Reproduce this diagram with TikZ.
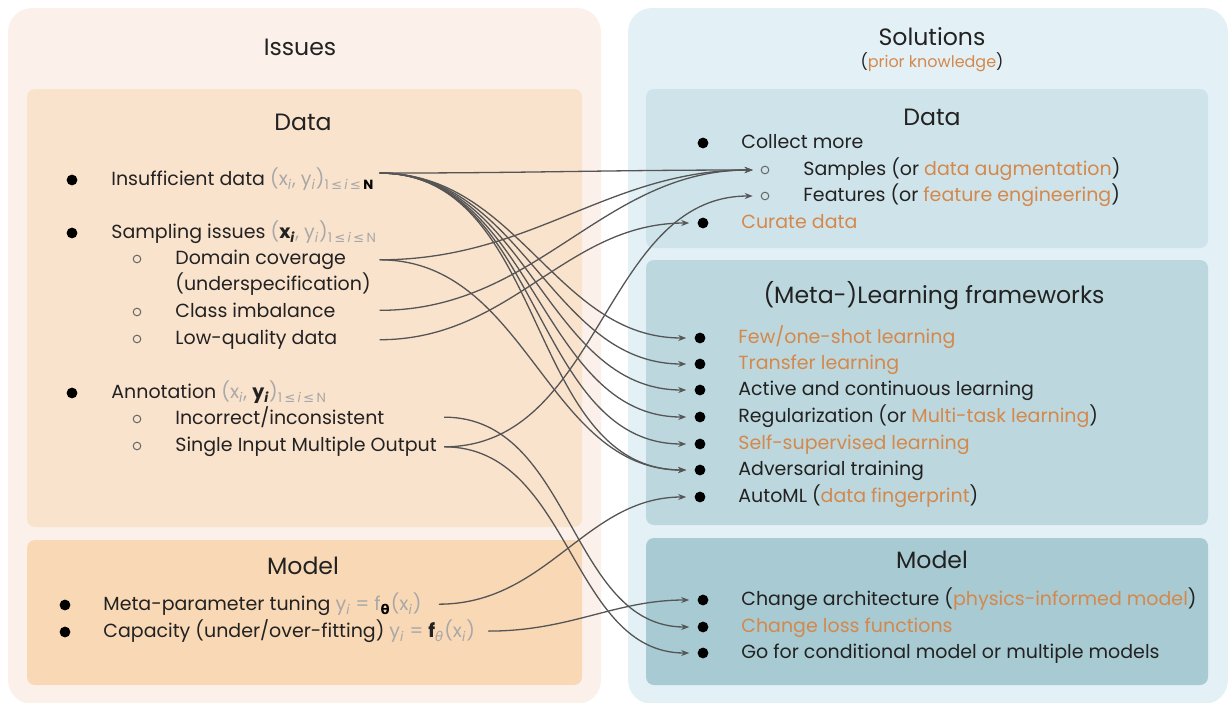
\documentclass[tikz,border=0pt]{standalone}
\usepackage{fontspec}
\setmainfont{Poppins}
\newfontfamily\symf{DejaVu Sans}
\usepackage{xcolor}
\definecolor{issOut}{HTML}{FBF1EA}
\definecolor{issData}{HTML}{FAE3CD}
\definecolor{issMod}{HTML}{F9D8B5}
\definecolor{solOut}{HTML}{E3F1F6}
\definecolor{solData}{HTML}{CFE4EA}
\definecolor{solML}{HTML}{BCD8DE}
\definecolor{solMod}{HTML}{A8CAD2}
\definecolor{hlor}{HTML}{D4884C}
\definecolor{mgrey}{HTML}{A8A8A8}
\definecolor{lineg}{HTML}{555555}
\definecolor{txt}{HTML}{222222}
\usepackage{tikz}
\usetikzlibrary{arrows.meta, positioning}
\newcommand{\hl}[1]{\textcolor{hlor}{#1}}
\newcommand{\mg}[1]{\textcolor{mgrey}{#1}}
\newcommand{\lo}[1]{\textsubscript{#1}}
\newcommand{\lesym}{{\symf ≤}}
\tikzset{
    ttl/.style={
        text=txt, inner sep=0pt,
        font=\fontsize{11.8}{13}\selectfont
    },
    subttl/.style={
        ttl,
        font=\fontsize{8}{10}\selectfont
    },
    item/.style={
        anchor=mid west, text=txt, inner sep=0.5pt,
        font=\fontsize{9.5}{11}\selectfont
    },
    dot/.style={circle, fill=black, inner sep=0pt, minimum size=5.4pt},
    ring/.style={circle, draw=black!60, line width=0.5pt, inner sep=0pt, minimum size=3.8pt},
    conn/.style={
        draw=lineg, line width=0.65pt,
        -{Stealth[length=4pt,width=3pt]},
        shorten >=4pt
    },
}
\begin{document}
\begin{tikzpicture}[x=0.5pt,y=-0.5pt]
    \useasboundingbox (0,0) rectangle (1231,702);

    % panels
    \fill[issOut, rounded corners=12pt] (8,8) rectangle (601,704);
    \fill[solOut, rounded corners=12pt] (628,8) rectangle (1228,704);
    \fill[issData, rounded corners=4pt] (27,89) rectangle (582,527);
    \fill[issMod, rounded corners=4pt] (27,540) rectangle (582,685);
    \fill[solData, rounded corners=4pt] (646,89) rectangle (1208,248);
    \fill[solML, rounded corners=4pt] (646,260) rectangle (1208,525);
    \fill[solMod, rounded corners=4pt] (646,538) rectangle (1208,685);

    % titles
    \node[ttl] (iss-t) at (300,47) {Issues};
    \node[ttl] (sol-t) at (932,37) {Solutions};
    \node[subttl] (sol-s) at (932,62) {(\hl{prior knowledge})};
    \node[ttl] (idat-t) at (303,122) {Data};
    \node[ttl] (imod-t) at (303,566) {Model};
    \node[ttl] (sdat-t) at (932,117) {Data};
    \node[ttl] (sml-t) at (934,296) {(Meta-)Learning frameworks};
    \node[ttl] (smod-t) at (932,560) {Model};

    % issues: data
    \node[dot] (ins-b) at (72,180) {};
    \node[item] (ins) at (110,180) {Insufficient data \mg{(x\lo{\itshape i}, y\lo{\itshape i})\lo{1\,\lesym\,{\itshape i}\,\lesym\,\textcolor{black}{\bfseries N}}}};
    \node[dot] (smp-b) at (72,233) {};
    \node[item] (smp) at (110,233) {Sampling issues \mg{(}\textbf{x\lo{\itshape i}}\mg{, y\lo{\itshape i})\lo{1\,\lesym\,{\itshape i}\,\lesym\,N}}};
    \node[ring] (dom-b) at (137,259) {};
    \node[item] (dom) at (174,259) {Domain coverage};
    \node[item] (dom2) at (174,285) {(underspecification)};
    \node[ring] (cls-b) at (137,312) {};
    \node[item] (cls) at (174,312) {Class imbalance};
    \node[ring] (low-b) at (137,339) {};
    \node[item] (low) at (174,339) {Low-quality data};
    \node[dot] (ann-b) at (72,393) {};
    \node[item] (ann) at (110,393) {Annotation \mg{(x\lo{\itshape i}, }\textbf{y\lo{\itshape i}}\mg{)\lo{1\,\lesym\,{\itshape i}\,\lesym\,N}}};
    \node[ring] (inc-b) at (137,419) {};
    \node[item] (inc) at (174,419) {Incorrect/inconsistent};
    \node[ring] (simo-b) at (137,446) {};
    \node[item] (simo) at (174,446) {Single Input Multiple Output};

    % issues: model
    \node[dot] (meta-b) at (65,605) {};
    \node[item] (meta) at (102,605) {Meta-parameter tuning \mg{y\lo{\itshape i} = f\lo{\textcolor{black}{\symf\bfseries θ}}(x\lo{\itshape i})}};
    \node[dot] (cap-b) at (65,632) {};
    \node[item] (cap) at (102,632) {Capacity (under/over-fitting) \mg{y\lo{\itshape i} = }\textbf{f}\mg{\lo{\symf\itshape θ}(x\lo{\itshape i})}};

    % solutions: data
    \node[dot] (col-b) at (703,143) {};
    \node[item] (col) at (740,143) {Collect more};
    \node[ring] (samp-b) at (765,170) {};
    \node[item] (samp) at (802,170) {Samples (or \hl{data augmentation})};
    \node[ring] (feat-b) at (765,196) {};
    \node[item] (feat) at (802,196) {Features (or \hl{feature engineering})};
    \node[dot] (cur-b) at (703,223) {};
    \node[item] (cur) at (740,223) {\hl{Curate data}};

    % solutions: learning frameworks
    \foreach \n/\y/\t in {few/338/{\hl{Few/one-shot learning}},
                          tra/364/{\hl{Transfer learning}},
                          act/390/{Active and continuous learning},
                          reg/417/{Regularization (or \hl{Multi-task learning})},
                          ssl/444/{\hl{Self-supervised learning}},
                          adv/470/{Adversarial training},
                          aml/497/{AutoML (\hl{data fingerprint})}} {
        \node[dot] (\n-b) at (700,\y) {};
        \node[item] (\n) at (737,\y) {\t};
    }

    % solutions: model
    \node[dot] (arch-b) at (703,600) {};
    \node[item] (arch) at (740,600) {Change architecture (\hl{physics-informed model})};
    \node[dot] (loss-b) at (703,627) {};
    \node[item] (loss) at (740,627) {\hl{Change loss functions}};
    \node[dot] (cond-b) at (703,653) {};
    \node[item] (cond) at (740,653) {Go for conditional model or multiple models};

    % connectors
    \draw[conn] ([xshift=2pt,yshift=3pt]ins.east) to[out=0,in=180] (samp-b);
    \foreach \t in {few,tra,act,reg,ssl,adv}
        \draw[conn] ([xshift=2pt,yshift=3pt]ins.east) to[out=0,in=180] (\t-b);
    \draw[conn] ([xshift=2pt]dom.east -| ins.east) to[out=0,in=180] (samp-b);
    \draw[conn] ([xshift=2pt]dom.east -| ins.east) to[out=0,in=180] (adv-b);
    \draw[conn] ([xshift=2pt]cls.east -| ins.east) to[out=0,in=180] (samp-b);
    \draw[conn] ([xshift=2pt]low.east -| ins.east) to[out=0,in=180] (cur-b);
    \draw[conn] ([xshift=3pt]inc.east -| simo.east) to[out=0,in=180] (loss-b);
    \draw[conn] ([xshift=3pt]simo.east) to[out=0,in=180] (feat-b);
    \draw[conn] ([xshift=3pt]simo.east) to[out=0,in=180] (cond-b);
    \draw[conn] ([xshift=8pt]meta.east) to[out=0,in=180] (aml-b);
    \draw[conn] ([xshift=6pt]cap.east) to[out=0,in=180] (arch-b);
\end{tikzpicture}
\end{document}
